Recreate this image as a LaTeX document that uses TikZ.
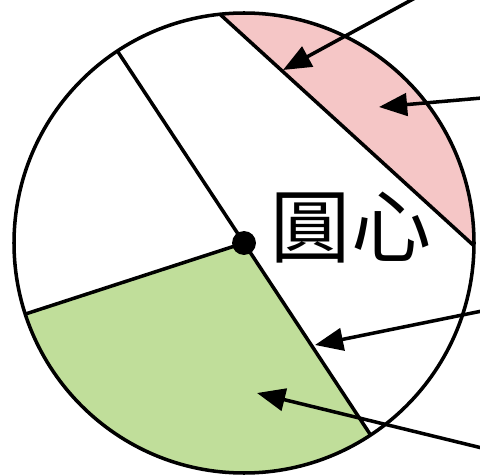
\documentclass[tikz,border=0pt]{standalone}
\usepackage{fontspec}
\newfontfamily\cjk{Noto Sans CJK TC}
\usetikzlibrary{arrows.meta,calc}
\definecolor{segpink}{RGB}{245,198,198}
\definecolor{sectgreen}{RGB}{192,222,154}
\tikzset{
  circlefig/.style={x=0.025cm,y=0.025cm,line width=2.5pt,
    >={Triangle[length=20pt,width=16pt]}},
  segpart/.style={fill=segpink},
  sectpart/.style={fill=sectgreen},
  pointer/.style={->,line width=2.5pt},
  centredot/.style={circle,fill,inner sep=0pt,minimum size=17pt},
  bigtext/.style={font=\cjk\fontsize{57}{60}\selectfont,inner sep=0pt},
}
\begin{document}
\begin{tikzpicture}[circlefig]
    \clip (0,0) rectangle (480,475);
    \useasboundingbox (0,0) rectangle (480,475);
    \coordinate (c) at (244,232);
    % sector and segment
    \fill[sectpart] (c) -- ++(198:230) arc[start angle=198,end angle=303.4,radius=230] -- cycle;
    \fill[segpart] ($(c)+(96:230)$) arc[start angle=96,end angle=-0.7,radius=230] -- cycle;
    \draw (c) circle[radius=230];
    \coordinate (chA) at ($(c)+(96:230)$);
    \coordinate (chB) at ($(c)+(-0.7:230)$);
    \coordinate (rA) at ($(c)+(123.4:230)$);
    \coordinate (rB) at ($(c)+(303.4:230)$);
    \coordinate (rC) at ($(c)+(198:230)$);
    \draw (chA) -- (chB);
    \draw (rA) -- (rB);
    \draw (c) -- (rC);
    \node[centredot] (centre) at (c) {};
    \node[bigtext] (label) at (351,247) {圓心};

    % pointers from the right
    \coordinate (chordtip) at (283,405);
    \coordinate (segtip) at (379,368);
    \coordinate (radtip) at (315,130);
    \coordinate (secttip) at (257,82);
    \coordinate (f1) at (415,477);
    \coordinate (f2) at (482,377);
    \coordinate (f3) at (482,164);
    \coordinate (f4) at (482,27);
    \draw[pointer] (f1) -- (chordtip);
    \draw[pointer] (f2) -- (segtip);
    \draw[pointer] (f3) -- (radtip);
    \draw[pointer] (f4) -- (secttip);
\end{tikzpicture}
\end{document}
